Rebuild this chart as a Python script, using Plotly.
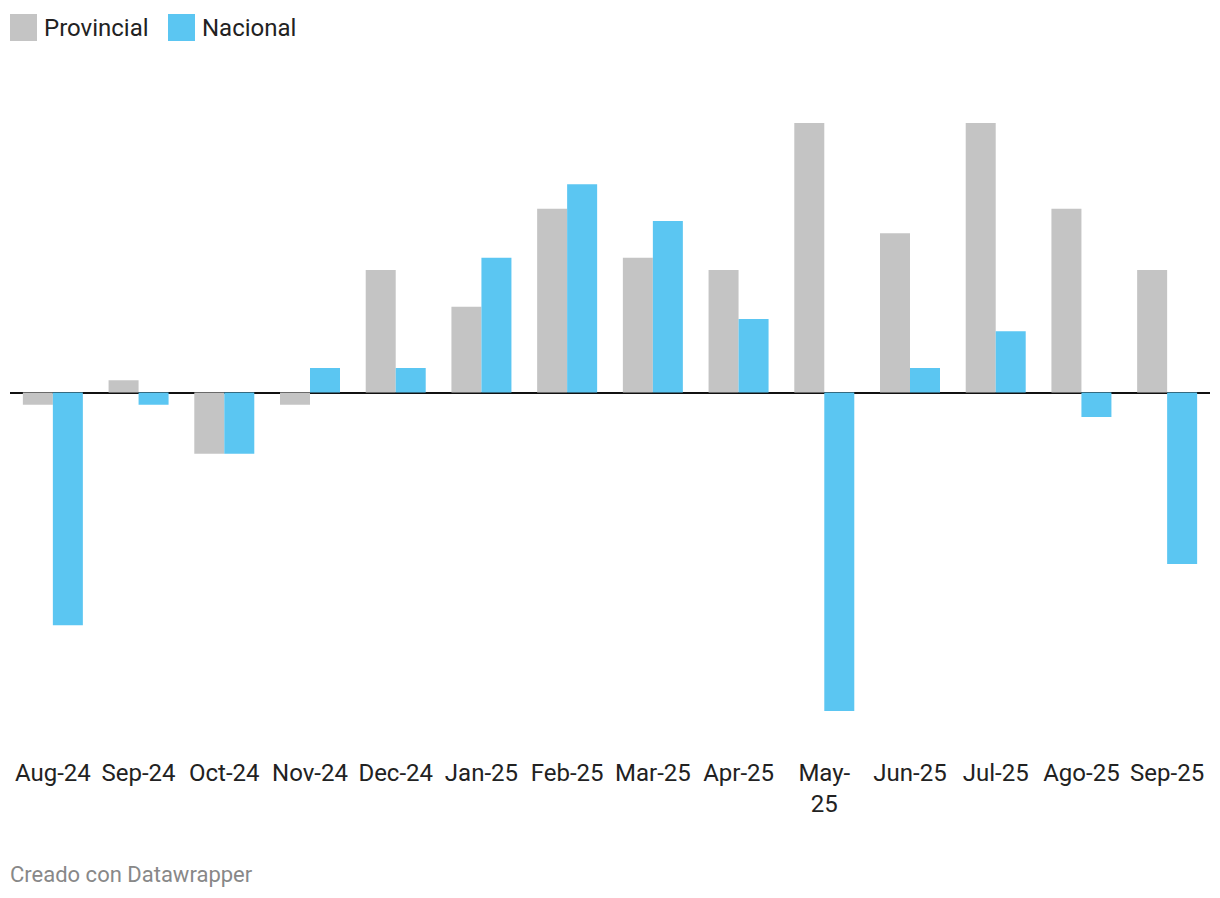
import plotly.graph_objects as go

months = ["Aug-24", "Sep-24", "Oct-24", "Nov-24", "Dec-24", "Jan-25", "Feb-25",
          "Mar-25", "Apr-25", "May-25", "Jun-25", "Jul-25", "Ago-25", "Sep-25"]
tick_text = ["Aug-24", "Sep-24", "Oct-24", "Nov-24", "Dec-24", "Jan-25", "Feb-25",
             "Mar-25", "Apr-25", "May-<br>25", "Jun-25", "Jul-25", "Ago-25", "Sep-25"]
provincial = [-0.1, 0.1, -0.5, -0.1, 1.0, 0.7, 1.5, 1.1, 1.0, 2.2, 1.3, 2.2, 1.5, 1.0]
nacional = [-1.9, -0.1, -0.5, 0.2, 0.2, 1.1, 1.7, 1.4, 0.6, -2.6, 0.2, 0.5, -0.2, -1.4]

series_names = ["Provincial", "Nacional"]
colors = ["#c4c4c4", "#5bc6f2"]

FONT = "Roboto, 'Noto Sans', Arial, sans-serif"

fig = go.Figure()
for name, vals, c in zip(series_names, [provincial, nacional], colors):
    fig.add_trace(go.Bar(x=months, y=vals, name=name, marker=dict(color=c, line=dict(width=0)),
                         showlegend=False, hoverinfo="x+y+name"))

# custom legend (squares + labels)
shapes = []
annotations = []
legend_x = [10, 168]
for i, (name, c) in enumerate(zip(series_names, colors)):
    x0 = legend_x[i]
    shapes.append(dict(type="rect", xref="paper", yref="paper",
                       x0=(x0 - 10) / 1200, x1=(x0 + 27 - 10) / 1200,
                       y0=(740 - 41) / 640, y1=(740 - 14) / 640,
                       fillcolor=c, line=dict(width=0)))
    annotations.append(dict(xref="paper", yref="paper", x=(x0 + 32 - 10) / 1200, y=(740 - 28) / 640,
                            text=name, showarrow=False, xanchor="left", yanchor="middle",
                            font=dict(family=FONT, size=24, color="#222222")))

annotations.append(dict(xref="paper", yref="paper", x=-0.0017, y=(740 - 874) / 640,
                        text="Creado con Datawrapper", showarrow=False, xanchor="left",
                        yanchor="middle", font=dict(family=FONT, size=22, color="#888888")))

fig.update_layout(
    width=1220, height=898,
    margin=dict(l=2, r=18, t=92, b=166),
    paper_bgcolor="white", plot_bgcolor="white",
    barmode="group", bargap=0.3, bargroupgap=0,
    font=dict(family=FONT, size=24, color="#222222"),
    shapes=shapes, annotations=annotations,
    xaxis=dict(tickmode="array", tickvals=months, ticktext=tick_text, showgrid=False,
               showline=False, ticks="", tickfont=dict(size=24, color="#222222"),
               ticklabelstandoff=16, fixedrange=True),
    yaxis=dict(range=[-2.837, 2.388], showgrid=False, showticklabels=False,
               zeroline=True, zerolinecolor="#111111", zerolinewidth=2, fixedrange=True),
)

fig.write_html("out.html")
